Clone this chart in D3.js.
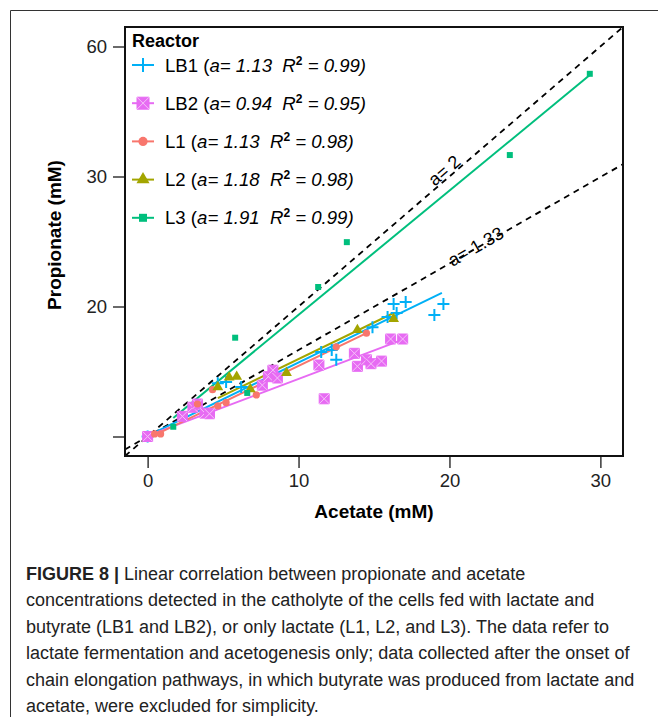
<!DOCTYPE html>
<html>
<head>
<meta charset="utf-8">
<script src="https://cdn.jsdelivr.net/npm/d3@7"></script>
<style>
  body { margin: 0; background: #fff; }
  text { font-family: "Liberation Sans", Arial, sans-serif; }
</style>
</head>
<body>
<svg width="658" height="717"></svg>
<script>
// legend / series info
var reactors = ["LB1", "LB2", "L1", "L2", "L3"];
var slopeLabels = ["1.13", "0.94", "1.13", "1.18", "1.91"];
var r2Labels = ["0.99", "0.95", "0.98", "0.98", "0.99"];
var colors = ["#00B0F6", "#E76BF3", "#F8766D", "#A3A500", "#00BF7D"];
var shapes = ["plus", "boxx", "circle", "triangle", "square"];

// [acetate, propionate] in mM
var lb1Points = [[0, 0], [4.65, 8.2], [5.2, 8.4], [6.2, 7.6], [11.5, 13.0], [12.2, 13.3], [12.5, 11.8],
  [14.9, 16.8], [15.9, 18.4], [16.3, 20.4], [16.5, 19.0], [17.1, 20.7], [19.0, 18.7], [19.6, 20.4]];
var lb2Points = [[0, 0], [2.3, 3.1], [3.0, 4.5], [3.3, 5.0], [3.8, 3.6], [4.1, 3.5], [7.6, 7.9], [8.0, 9.2],
  [8.3, 10.2], [8.6, 9.0], [11.35, 11.0], [11.7, 5.8], [13.7, 12.8], [13.9, 10.8], [14.5, 11.8],
  [14.8, 11.2], [15.5, 11.6], [16.1, 15.0], [16.9, 15.0]];
var l1Points = [[0.46, 0.4], [0.86, 0.4], [3.3, 5.0], [4.3, 7.2], [4.65, 4.7], [5.2, 5.2], [7.2, 6.4],
  [12.5, 13.8], [14.5, 15.9]];
var l2Points = [[4.65, 7.6], [5.4, 9.1], [5.9, 9.2], [6.8, 7.3], [9.2, 9.8], [13.9, 16.4], [16.3, 18.1]];
var l3Points = [[1.7, 1.5], [5.8, 15.2], [6.6, 6.7], [11.3, 23.0], [13.2, 29.9], [24.0, 43.3], [29.3, 55.8]];

// fitted lines, start and end points
var lb1Fit = [[0, 0.1], [19.5, 22.1]];
var lb2Fit = [[0, 0.1], [16.9, 14.9]];
var l1Fit = [[0.46, 0.2], [14.5, 15.9]];
var l2Fit = [[4.65, 5.9], [16.3, 19.0]];
var l3Fit = [[1.7, 2.85], [29.3, 55.6]];

// dashed reference lines
var refSlopes = [2, 1.33];
var refLabels = ["a= 2", "a= 1.33"];
var refLabelX = [20.0, 21.8];

var xTicks = [0, 10, 20, 30];
var yTicks = [0, 20, 40, 60];
var yTickLabels = ["", "20", "30", "60"];

var captionLines = [
  " Linear correlation between propionate and acetate",
  "concentrations detected in the catholyte of the cells fed with lactate and",
  "butyrate (LB1 and LB2), or only lactate (L1, L2, and L3). The data refer to",
  "lactate fermentation and acetogenesis only; data collected after the onset of",
  "chain elongation pathways, in which butyrate was produced from lactate and",
  "acetate, were excluded for simplicity."
];

var series = [lb1Points, lb2Points, l1Points, l2Points, l3Points];
var fits = [lb1Fit, lb2Fit, l1Fit, l2Fit, l3Fit];

var svg = d3.select("svg");

// figure frame
svg.append("path")
    .attr("d", "M10.5,717V10.5H658")
    .attr("fill", "none")
    .attr("stroke", "#333")
    .attr("stroke-width", 1);

var x = d3.scaleLinear().domain([-1.5, 31.5]).range([125, 623]),
    y = d3.scaleLinear().domain([-3, 63]).range([456, 27]);

svg.append("clipPath").attr("id", "plotclip")
  .append("rect")
    .attr("x", 125).attr("y", 27).attr("width", 498).attr("height", 429);

var plot = svg.append("g").attr("clip-path", "url(#plotclip)");

// reference lines
refSlopes.forEach(function(a, i) {
  var x0 = -1.5, x1 = 31.5;
  plot.append("line")
      .attr("x1", x(x0)).attr("y1", y(a * x0))
      .attr("x2", x(x1)).attr("y2", y(a * x1))
      .attr("stroke", "#000")
      .attr("stroke-width", 1.8)
      .attr("stroke-dasharray", "6,5");
  var ang = Math.atan2(y(a * 10) - y(0), x(10) - x(0)) * 180 / Math.PI;
  plot.append("text")
      .attr("transform", "translate(" + x(refLabelX[i]) + "," + y(a * refLabelX[i]) + ") rotate(" + ang + ")")
      .attr("text-anchor", "middle")
      .attr("dy", i == 0 ? "-0.1em" : "0.25em")
      .style("font-size", "18px")
      .attr("fill", "#000")
      .text(refLabels[i]);
});

var symbolPath = function(shape, s) {
  if (shape == "plus") return "M" + (-s) + ",0H" + s + "M0," + (-s) + "V" + s;
  if (shape == "boxx" || shape == "square") return "M" + (-s) + "," + (-s) + "H" + s + "V" + s + "H" + (-s) + "Z";
  if (shape == "circle") return d3.symbol(d3.symbolCircle, Math.PI * s * s)();
  if (shape == "triangle") return d3.symbol(d3.symbolTriangle, s * s * 2.2)();
};

var drawSymbol = function(g, i, s) {
  var shape = shapes[i], c = colors[i];
  if (shape == "plus") {
    g.append("path").attr("d", symbolPath(shape, s)).attr("stroke", c).attr("stroke-width", 2).attr("fill", "none");
  } else if (shape == "boxx") {
    g.append("path").attr("d", symbolPath(shape, s)).attr("fill", c).attr("stroke", c).attr("stroke-width", 1);
    g.append("path").attr("d", "M" + (-s) + "," + (-s) + "L" + s + "," + s + "M" + s + "," + (-s) + "L" + (-s) + "," + s)
        .attr("stroke", "#f6c2f9").attr("stroke-width", 1);
  } else {
    g.append("path").attr("d", symbolPath(shape, s)).attr("fill", c);
  }
};

var pointSize = [6, 5, 3.6, 4.8, 3];

// fit lines
fits.forEach(function(f, i) {
  plot.append("line")
      .attr("x1", x(f[0][0])).attr("y1", y(f[0][1]))
      .attr("x2", x(f[1][0])).attr("y2", y(f[1][1]))
      .attr("stroke", colors[i])
      .attr("stroke-width", 2);
});

// points
series.forEach(function(pts, i) {
  plot.selectAll(".pt" + i)
    .data(pts)
    .enter().append("g")
      .attr("class", "pt" + i)
      .attr("transform", function(d) { return "translate(" + x(d[0]) + "," + y(d[1]) + ")"; })
      .each(function() { drawSymbol(d3.select(this), i, pointSize[i]); });
});

// axes
var xAxis = svg.append("g")
    .attr("transform", "translate(0,456)")
    .call(d3.axisBottom(x).tickValues(xTicks).tickSize(12).tickPadding(6));
var yAxis = svg.append("g")
    .attr("transform", "translate(125,0)")
    .call(d3.axisLeft(y).tickValues(yTicks).tickSize(12).tickPadding(6)
      .tickFormat(function(d, i) { return yTickLabels[i]; }));
[xAxis, yAxis].forEach(function(ax) {
  ax.select(".domain").remove();
  ax.selectAll("line").attr("stroke", "#444").attr("stroke-width", 1.6);
  ax.selectAll("text").attr("fill", "#222").style("font-size", "18.5px").style("font-family", "Liberation Sans, Arial, sans-serif");
});

// plot box
svg.append("rect")
    .attr("x", 125).attr("y", 27).attr("width", 498).attr("height", 429)
    .attr("fill", "none")
    .attr("stroke", "#111")
    .attr("stroke-width", 2);

// axis titles
svg.append("text")
    .attr("x", 374).attr("y", 518)
    .attr("text-anchor", "middle")
    .style("font-size", "19px").style("font-weight", "bold")
    .text("Acetate (mM)");
svg.append("text")
    .attr("transform", "translate(61,235) rotate(-90)")
    .attr("text-anchor", "middle")
    .style("font-size", "19px").style("font-weight", "bold")
    .text("Propionate (mM)");

// legend
var legend = svg.append("g");
legend.append("text")
    .attr("x", 132).attr("y", 47)
    .style("font-size", "18px").style("font-weight", "bold")
    .text("Reactor");

reactors.forEach(function(r, i) {
  var ly = 65 + i * 38.2;
  var item = legend.append("g").attr("transform", "translate(143," + ly + ")");
  item.append("line").attr("x1", -11).attr("x2", 11).attr("stroke", colors[i]).attr("stroke-width", 2);
  drawSymbol(item, i, i == 0 ? 7 : pointSize[i] + 1);
  var t = legend.append("text")
      .attr("x", 165).attr("y", ly + 6.5)
      .style("font-size", "18.6px")
      .style("white-space", "pre");
  t.append("tspan").text(r + " (");
  t.append("tspan").style("font-style", "italic").text("a= " + slopeLabels[i] + "  R");
  t.append("tspan").attr("dy", -7).style("font-size", "12px").style("font-weight", "bold").text("2");
  t.append("tspan").attr("dy", 7).style("font-style", "italic").text(" = " + r2Labels[i] + ")");
});

// caption
var cap = svg.append("text")
    .attr("x", 26).attr("y", 580)
    .style("font-size", "18px")
    .attr("fill", "#222");
captionLines.forEach(function(line, i) {
  var row = cap.append("tspan").attr("x", 26).attr("y", 580 + i * 26.4);
  if (i == 0) {
    row.append("tspan").style("font-weight", "bold").text("FIGURE 8 |");
  }
  row.append("tspan").text(line);
});
</script>
</body>
</html>
